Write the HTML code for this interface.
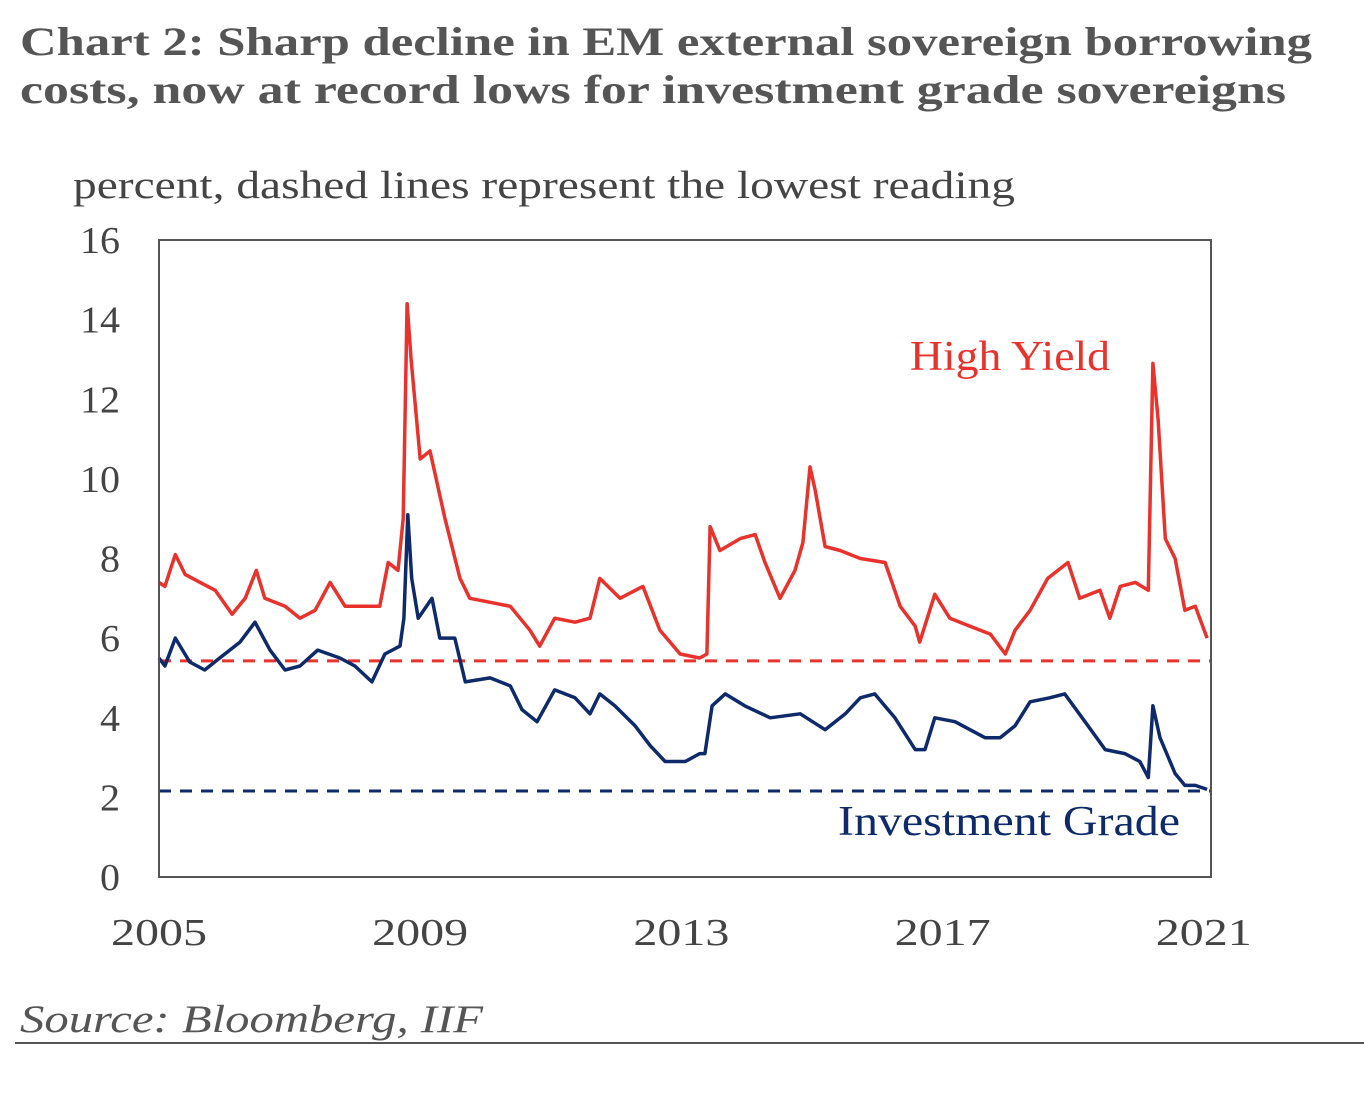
<!DOCTYPE html>
<html><head><meta charset="utf-8"><style>
html,body{margin:0;padding:0;background:#fff;}
svg{display:block;font-family:"Liberation Serif",serif;}
</style></head><body>
<svg id="chart" width="1364" height="1102" viewBox="0 0 1364 1102">
<text x="20" y="55" font-size="40" font-weight="bold" fill="#555" textLength="1292" lengthAdjust="spacingAndGlyphs">Chart 2: Sharp decline in EM external sovereign borrowing</text>
<text x="20" y="103" font-size="40" font-weight="bold" fill="#555" textLength="1266" lengthAdjust="spacingAndGlyphs">costs, now at record lows for investment grade sovereigns</text>
<text x="73" y="198" font-size="39" fill="#444" textLength="942" lengthAdjust="spacingAndGlyphs">percent, dashed lines represent the lowest reading</text>
<g id="yticks"></g><g id="xticks"></g>
<g id="plot"></g>
<rect x="159" y="240" width="1052" height="637" fill="none" stroke="#555" stroke-width="2"/>
<text x="910" y="370" font-size="42" fill="#e8322b" textLength="200" lengthAdjust="spacingAndGlyphs">High Yield</text>
<text x="838" y="835" font-size="42" fill="#0f2a6b" textLength="342" lengthAdjust="spacingAndGlyphs">Investment Grade</text>
<text x="20" y="1032" font-size="39" font-style="italic" fill="#555" textLength="463" lengthAdjust="spacingAndGlyphs">Source:  Bloomberg, IIF</text>
<line x1="15" y1="1043" x2="1364" y2="1043" stroke="#555" stroke-width="2"/>
</svg>
<script>
const yTicks=[0,2,4,6,8,10,12,14,16];
const xTickLabels=["2005","2009","2013","2017","2021"];
const xTickYears=[0,4,8,12,16];
const hyDates=[0,.09,.25,.40,.63,.86,1.12,1.32,1.49,1.62,1.93,2.16,2.39,2.62,2.85,3.15,3.38,3.51,3.66,3.74,3.80,3.86,4.00,4.15,4.38,4.61,4.76,5.07,5.38,5.68,5.83,6.06,6.37,6.60,6.75,7.06,7.41,7.67,7.98,8.28,8.39,8.44,8.59,8.90,9.13,9.28,9.51,9.74,9.86,9.97,10.05,10.20,10.43,10.74,11.12,11.35,11.58,11.65,11.88,12.11,12.42,12.73,12.96,13.11,13.34,13.61,13.92,14.10,14.41,14.56,14.72,14.95,15.15,15.22,15.30,15.41,15.56,15.71,15.87,16.05];
const hyValues=[7.4,7.3,8.1,7.6,7.4,7.2,6.6,7.0,7.7,7.0,6.8,6.5,6.7,7.4,6.8,6.8,6.8,7.9,7.7,9.0,14.4,13.0,10.5,10.7,9.0,7.5,7.0,6.9,6.8,6.2,5.8,6.5,6.4,6.5,7.5,7.0,7.3,6.2,5.6,5.5,5.6,8.8,8.2,8.5,8.6,7.9,7.0,7.7,8.4,10.3,9.7,8.3,8.2,8.0,7.9,6.8,6.3,5.9,7.1,6.5,6.3,6.1,5.6,6.2,6.7,7.5,7.9,7.0,7.2,6.5,7.3,7.4,7.2,12.9,11.5,8.5,8.0,6.7,6.8,6.0];
const igDates=[0,.09,.25,.47,.70,.93,1.24,1.47,1.70,1.93,2.16,2.43,2.77,3.00,3.26,3.46,3.69,3.75,3.81,3.87,3.97,4.18,4.30,4.53,4.69,5.07,5.38,5.56,5.79,6.06,6.37,6.60,6.75,6.98,7.29,7.52,7.75,8.06,8.28,8.36,8.47,8.67,8.97,9.36,9.82,10.20,10.51,10.74,10.96,11.27,11.58,11.73,11.88,12.19,12.65,12.88,13.11,13.34,13.64,13.87,14.18,14.49,14.79,15.02,15.15,15.22,15.33,15.56,15.71,15.87,16.05];
const igValues=[5.5,5.3,6.0,5.4,5.2,5.5,5.9,6.4,5.7,5.2,5.3,5.7,5.5,5.3,4.9,5.6,5.8,6.5,9.1,7.5,6.5,7.0,6.0,6.0,4.9,5.0,4.8,4.2,3.9,4.7,4.5,4.1,4.6,4.3,3.8,3.3,2.9,2.9,3.1,3.1,4.3,4.6,4.3,4.0,4.1,3.7,4.1,4.5,4.6,4.0,3.2,3.2,4.0,3.9,3.5,3.5,3.8,4.4,4.5,4.6,3.9,3.2,3.1,2.9,2.5,4.3,3.5,2.6,2.3,2.3,2.2];
const hyLow=5.43, igLow=2.16;

const NS="http://www.w3.org/2000/svg";
const X0=159,X1=1211,Y0=877,Y1=240;
const xs=t=>X0+t*65.3;
const ys=v=>Y0-(v/16)*(Y0-Y1);
function mk(tag,attrs,parent){const e=document.createElementNS(NS,tag);for(const k in attrs)e.setAttribute(k,attrs[k]);parent.appendChild(e);return e;}
const yg=document.getElementById('yticks'),xg=document.getElementById('xticks'),pg=document.getElementById('plot');
yTicks.forEach(v=>{const s=String(v);const t=mk('text',{x:120,y:ys(v)+13,'font-size':38,fill:'#444','text-anchor':'end',textLength:s.length*20,lengthAdjust:'spacingAndGlyphs'},yg);t.textContent=s;

});
xTickLabels.forEach((l,i)=>{const t=mk('text',{x:xs(xTickYears[i]),y:945,'font-size':38,fill:'#444','text-anchor':'middle',textLength:96,lengthAdjust:'spacingAndGlyphs'},xg);t.textContent=l;

});
const l1=mk('line',{x1:X0,x2:X1,y1:ys(hyLow),y2:ys(hyLow),stroke:'#e8322b','stroke-width':3,'stroke-dasharray':'12,9'},pg);


const l2=mk('line',{x1:X0,x2:X1,y1:ys(igLow),y2:ys(igLow),stroke:'#0f2a6b','stroke-width':3,'stroke-dasharray':'12,9'},pg);


function path(d,v){return d.map((t,i)=>(i?'L':'M')+xs(t).toFixed(1)+','+ys(v[i]).toFixed(1)).join('');}
const p1=mk('path',{d:path(hyDates,hyValues),fill:'none',stroke:'#e8322b','stroke-width':3.5,'stroke-linejoin':'round'},pg);


const p2=mk('path',{d:path(igDates,igValues),fill:'none',stroke:'#0f2a6b','stroke-width':3.5,'stroke-linejoin':'round'},pg);


</script>
</body></html>
